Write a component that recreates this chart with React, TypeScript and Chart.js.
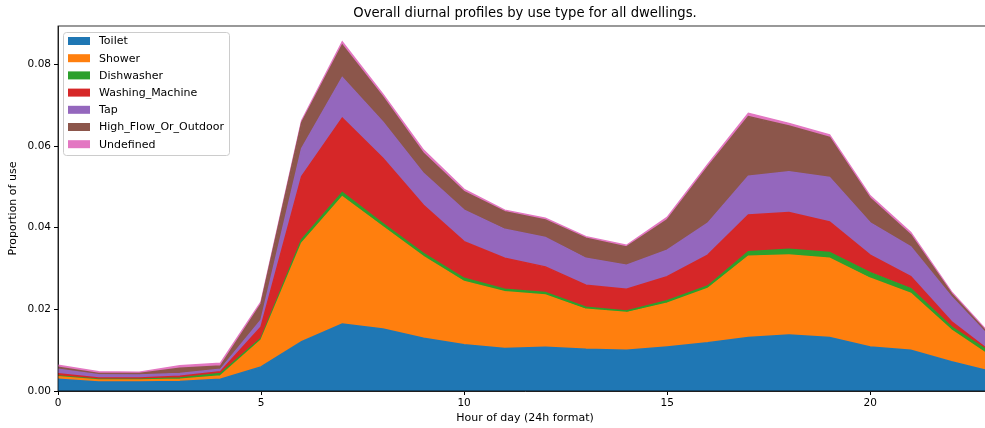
import React, { useEffect, useRef } from 'react';
import { Chart, ChartConfiguration, Plugin } from 'chart.js/auto';

const hours = [0, 1, 2, 3, 4, 5, 6, 7, 8, 9, 10, 11, 12, 13, 14, 15, 16, 17, 18, 19, 20, 21, 22, 23];

const toilet = [0.0029, 0.0022, 0.0022, 0.0023, 0.0029, 0.0059, 0.0121, 0.0164, 0.0152, 0.0129, 0.0113, 0.0104, 0.0107, 0.0102, 0.0100, 0.0108, 0.0118, 0.0131, 0.0137, 0.0131, 0.0108, 0.0100, 0.0072, 0.0047];
const shower = [0.0006, 0.0005, 0.0005, 0.0006, 0.0008, 0.0066, 0.0241, 0.0312, 0.0250, 0.0200, 0.0155, 0.0139, 0.0128, 0.0098, 0.0092, 0.0107, 0.0133, 0.0199, 0.0196, 0.0194, 0.0168, 0.0139, 0.0077, 0.0035];
const dishwasher = [0.0002, 0.0002, 0.0002, 0.0003, 0.0006, 0.0004, 0.0009, 0.0010, 0.0008, 0.0008, 0.0008, 0.0006, 0.0006, 0.0005, 0.0004, 0.0006, 0.0006, 0.0011, 0.0014, 0.0014, 0.0014, 0.0012, 0.0008, 0.0010];
const washingMachine = [0.0005, 0.0003, 0.0003, 0.0004, 0.0004, 0.0028, 0.0154, 0.0182, 0.0160, 0.0118, 0.0090, 0.0076, 0.0063, 0.0054, 0.0053, 0.0059, 0.0076, 0.0090, 0.0090, 0.0075, 0.0043, 0.0029, 0.0013, 0.0002];
const tap = [0.0011, 0.0008, 0.0007, 0.0007, 0.0006, 0.0017, 0.0069, 0.0100, 0.0089, 0.0078, 0.0077, 0.0071, 0.0072, 0.0066, 0.0059, 0.0065, 0.0078, 0.0095, 0.0100, 0.0109, 0.0079, 0.0073, 0.0061, 0.0032];
const highFlow = [0.0005, 0.0003, 0.0004, 0.0013, 0.0008, 0.0039, 0.0063, 0.0079, 0.0061, 0.0049, 0.0045, 0.0043, 0.0043, 0.0049, 0.0045, 0.0074, 0.0138, 0.0146, 0.0112, 0.0098, 0.0060, 0.0029, 0.0008, 0.0004];
const undefinedUse = [0.0005, 0.0004, 0.0003, 0.0006, 0.0007, 0.0005, 0.0005, 0.0008, 0.0007, 0.0008, 0.0006, 0.0004, 0.0004, 0.0004, 0.0004, 0.0006, 0.0006, 0.0008, 0.0006, 0.0006, 0.0006, 0.0006, 0.0004, 0.0004];

const seriesNames = ['Toilet', 'Shower', 'Dishwasher', 'Washing_Machine', 'Tap', 'High_Flow_Or_Outdoor', 'Undefined'];
const seriesValues = [toilet, shower, dishwasher, washingMachine, tap, highFlow, undefinedUse];
const colors = ['#1f77b4', '#ff7f0e', '#2ca02c', '#d62728', '#9467bd', '#8c564b', '#e377c2'];

const TITLE = 'Overall diurnal profiles by use type for all dwellings.';
const FONT = "'DejaVu Sans', sans-serif";

// box around the plot area (matplotlib draws all four spines) + title centred over the axes
const framePlugin: Plugin = {
  id: 'frame',
  afterDatasetsDraw(chart) {
    const { ctx, chartArea } = chart;
    ctx.save();
    ctx.strokeStyle = '#000';
    ctx.lineWidth = 0.8;
    ctx.strokeRect(chartArea.left, chartArea.top, chartArea.right - chartArea.left, chartArea.bottom - chartArea.top);
    ctx.fillStyle = '#000';
    ctx.font = `13.2px ${FONT}`;
    ctx.textAlign = 'center';
    ctx.textBaseline = 'middle';
    ctx.fillText(TITLE, (chartArea.left + chartArea.right) / 2, chartArea.top - 12.6);
    ctx.restore();
  },
};

// legend in the upper-left corner inside the axes
const legendPlugin: Plugin = {
  id: 'innerLegend',
  afterDraw(chart) {
    const { ctx, chartArea } = chart;
    const x = chartArea.left + 5;
    const y = chartArea.top + 6;
    const w = 166;
    const h = 123;
    ctx.save();
    ctx.beginPath();
    ctx.roundRect(x + 0.5, y + 0.5, w, h, 3);
    ctx.fillStyle = 'rgba(255,255,255,0.8)';
    ctx.fill();
    ctx.strokeStyle = '#cccccc';
    ctx.lineWidth = 1;
    ctx.stroke();
    ctx.font = `11px ${FONT}`;
    ctx.textBaseline = 'middle';
    chart.data.datasets.forEach((ds, i) => {
      const cy = y + 9 + i * 17.2;
      ctx.fillStyle = ds.backgroundColor as string;
      ctx.fillRect(x + 5, cy - 4, 22, 8);
      ctx.fillStyle = '#000';
      ctx.fillText(ds.label as string, x + 36, cy + 0.5);
    });
    ctx.restore();
  },
};

export default function App() {
  const chartRef = useRef<HTMLCanvasElement>(null);
  const chartInstance = useRef<Chart | null>(null);

  useEffect(() => {
    document.body.style.margin = '0';
    if (chartInstance.current) {
      chartInstance.current.destroy();
    }
    if (!chartRef.current) return;
    const ctx = chartRef.current.getContext('2d');
    if (!ctx) return;

    const config: ChartConfiguration = {
      type: 'line',
      data: {
        datasets: seriesNames.map((name, i) => ({
          label: name,
          data: hours.map((h, j) => ({ x: h, y: seriesValues[i][j] })),
          backgroundColor: colors[i],
          borderColor: colors[i],
          borderWidth: 1.5,
          pointRadius: 0,
          tension: 0,
          fill: i === 0 ? 'origin' : '-1',
        })),
      },
      options: {
        animation: false,
        responsive: true,
        maintainAspectRatio: false,
        layout: { padding: { left: 0, right: 8, top: 26, bottom: 0 } },
        plugins: {
          legend: { display: false },
          tooltip: { enabled: false },
          filler: { drawTime: 'beforeDatasetsDraw' },
          title: { display: false },
        },
        scales: {
          x: {
            type: 'linear',
            min: 0,
            max: 23,
            afterFit: (scale) => {
              scale.height = 37;
            },
            grid: { drawOnChartArea: false, drawTicks: true, tickLength: 4, tickColor: '#000' },
            border: { display: true, color: '#000', width: 0.8 },
            ticks: {
              stepSize: 5,
              includeBounds: false,
              color: '#000',
              padding: 2,
              maxRotation: 0,
              font: { family: FONT, size: 10.5 },
            },
            title: {
              display: true,
              text: 'Hour of day (24h format)',
              color: '#000',
              font: { family: FONT, size: 11, lineHeight: 1.2 },
              padding: { top: 0, bottom: 3.4 },
            },
          },
          y: {
            stacked: true,
            min: 0,
            max: 0.0894,
            afterFit: (scale) => {
              scale.width = 58;
            },
            grid: { drawOnChartArea: false, drawTicks: true, tickLength: 4, tickColor: '#000' },
            border: { display: true, color: '#000', width: 0.8 },
            ticks: {
              stepSize: 0.02,
              includeBounds: false,
              color: '#000',
              padding: 3,
              font: { family: FONT, size: 10.5 },
              callback: (value) => Number(value).toFixed(2),
            },
            title: {
              display: true,
              text: 'Proportion of use',
              color: '#000',
              font: { family: FONT, size: 11, lineHeight: 1.2 },
              padding: { top: 6.7, bottom: 0 },
            },
          },
        },
      },
      plugins: [framePlugin, legendPlugin],
    };

    chartInstance.current = new Chart(ctx, config);

    return () => {
      if (chartInstance.current) {
        chartInstance.current.destroy();
        chartInstance.current = null;
      }
    };
  }, []);

  return (
    <div style={{ width: 985, height: 428, overflow: 'hidden', background: '#fff' }}>
      <div style={{ width: 1000, height: 428, position: 'relative' }}>
        <canvas ref={chartRef}></canvas>
      </div>
    </div>
  );
}
